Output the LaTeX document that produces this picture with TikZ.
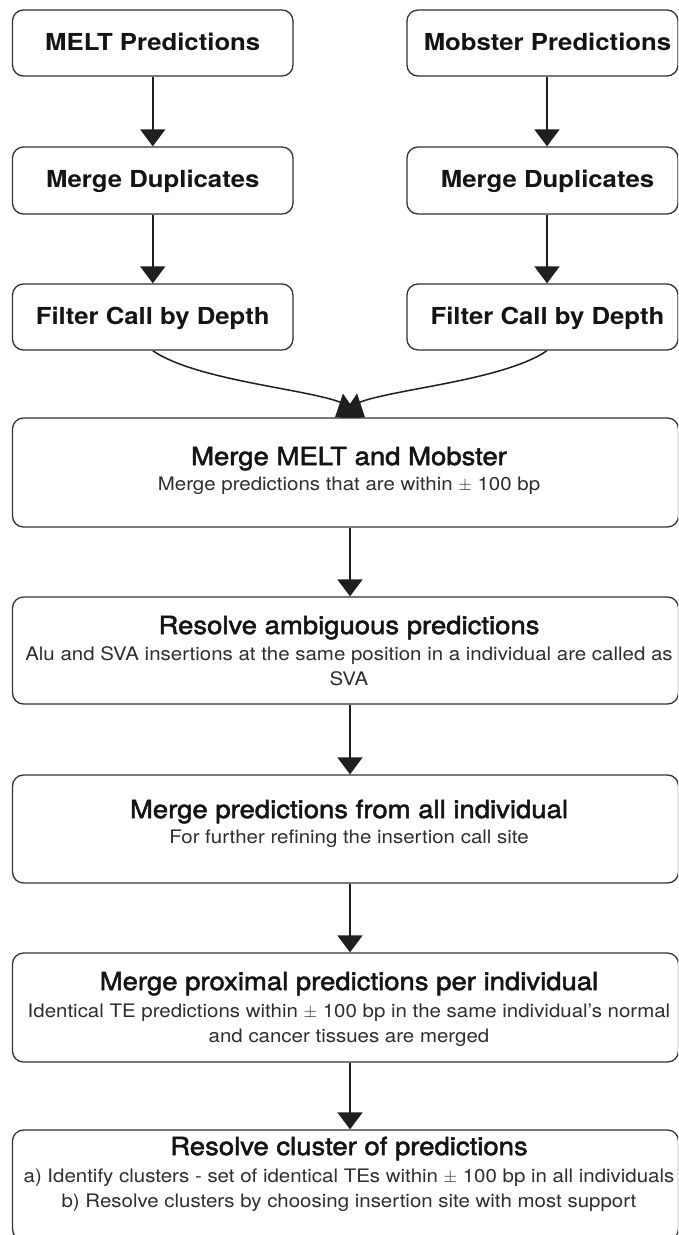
\documentclass[tikz,border=0pt]{standalone}
\usepackage{fontspec}
\setmainfont[FakeStretch=1.1]{TeX Gyre Heros}
\newfontfamily\headfont[FakeStretch=1.1,FakeBold=2.0]{TeX Gyre Heros}
\usetikzlibrary{arrows.meta}
\pgfdeclarelayer{bg}
\pgfsetlayers{bg,main}
\begin{document}
\begin{tikzpicture}[x=1pt,y=-1pt,
  box/.style={draw=black!80, line width=1.3pt, rounded corners=11pt, inner sep=0pt, fill=white},
  topbox/.style={box, minimum height=66pt, text height=17pt, text depth=3pt,
    font=\bfseries\fontsize{23.4}{27}\selectfont, text=black!92},
  bigbox/.style={box, minimum width=666pt},
  ttl/.style={anchor=base, inner sep=0pt, font=\headfont\fontsize{25}{29}\selectfont, text=black!92},
  sub/.style={anchor=base, inner sep=0pt, font=\fontsize{18.6}{22}\selectfont, text=black!82},
  arr/.style={draw=black!88, line width=1.5pt, -{Triangle[width=25pt,length=17pt]}},
  arrc/.style={draw=black!88, line width=1.5pt, -{Triangle[width=30pt,length=20pt]}}
]
\useasboundingbox (0,0) rectangle (678,1235);
\clip (0,0) rectangle (678,1235);
\begin{pgfonlayer}{bg}
\fill[white] (0,0) rectangle (678,1235);
\end{pgfonlayer}

% left column
\node[topbox, minimum width=280.5pt] (m1) at (152.75,43) {MELT Predictions};
\node[topbox, minimum width=280.5pt, minimum height=67pt] (m2) at (152.75,180.5) {Merge Duplicates};
\node[topbox, minimum width=280.5pt] (m3) at (152.75,317) {Filter Call by Depth};
% right column
\node[topbox, minimum width=271pt] (b1) at (542.5,43) {\hspace*{10pt}Mobster Predictions};
\node[topbox, minimum width=271pt, minimum height=67pt] (b2) at (542.5,180.5) {\hspace*{10pt}Merge Duplicates};
\node[topbox, minimum width=271pt] (b3) at (542.5,317) {\hspace*{10pt}Filter Call by Depth};

% big boxes
\node[bigbox, minimum height=109pt] (c1) at (345.5,472.5) {};
\node[bigbox, minimum height=107pt] (c2) at (345.5,650.5) {};
\node[bigbox, minimum height=108pt] (c3) at (345.5,829) {};
\node[bigbox, minimum height=109pt] (c4) at (345.5,1007.5) {};
\node[bigbox, minimum height=110pt] (c5) at (345.5,1185) {};

% texts
\node[ttl] (t1) at (349,465) {Merge MELT and Mobster};
\node[sub] (s1) at (349,490) {Merge predictions that are within $\pm$ 100 bp};

\node[ttl] (t2) at (349,634) {Resolve ambiguous predictions};
\node[sub] (s2a) at (349,660) {Alu and SVA insertions at the same position in a individual are called as};
\node[sub] (s2b) at (349,685) {SVA};

\node[ttl] (t3) at (349,818) {Merge predictions from all individual};
\node[sub] (s3) at (349,843) {For further refining the insertion call site};

\node[ttl] (t4) at (349,990) {Merge proximal predictions per individual};
\node[sub] (s4a) at (349,1017) {Identical TE predictions within $\pm$ 100 bp in the same individual’s normal};
\node[sub] (s4b) at (349,1042) {and cancer tissues are merged};

\node[ttl] (t5) at (349,1155) {Resolve cluster of predictions};
\node[sub] (s5a) at (349,1182) {a) Identify clusters - set of identical TEs within $\pm$ 100 bp in all individuals};
\node[sub] (s5b) at (349,1207) {b) Resolve clusters by choosing insertion site with most support};

% arrows
\draw[arr] (m1.south) -- (m2.north);
\draw[arr] (m2.south) -- (m3.north);
\draw[arr] ([xshift=4.5pt]b1.south) -- ([xshift=4.5pt]b2.north);
\draw[arr] ([xshift=4.5pt]b2.south) -- ([xshift=4.5pt]b3.north);
\begin{pgfonlayer}{bg}
\draw[arrc] (m3.south) .. controls (200,383) and (325,390) .. ([xshift=19.5pt]c1.north);
\draw[arrc] ([xshift=4.5pt]b3.south) .. controls (500,383) and (375,390) .. ([xshift=-10.5pt]c1.north);
\end{pgfonlayer}
\draw[arr] ([xshift=4.5pt]c1.south) -- ([xshift=4.5pt]c2.north);
\draw[arr] ([xshift=4.5pt]c2.south) -- ([xshift=4.5pt]c3.north);
\draw[arr] ([xshift=4.5pt]c3.south) -- ([xshift=4.5pt]c4.north);
\draw[arr] ([xshift=4.5pt]c4.south) -- ([xshift=4.5pt]c5.north);
\end{tikzpicture}
\end{document}
